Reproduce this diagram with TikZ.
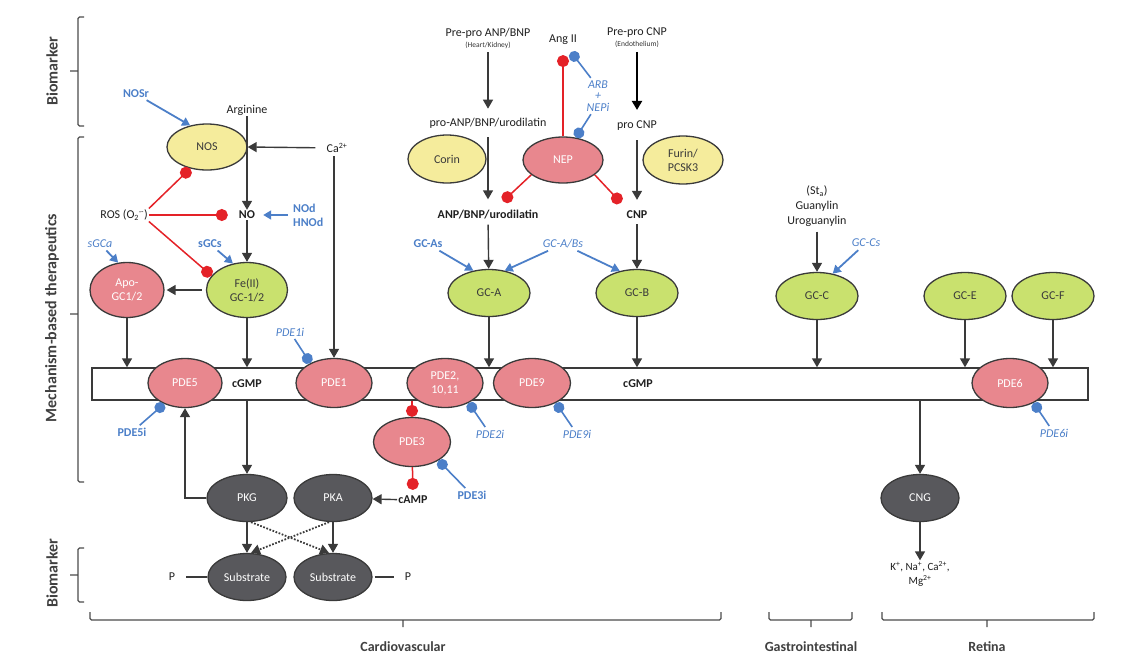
\documentclass[tikz,border=0pt]{standalone}
\usepackage{fontspec}
\setmainfont{Carlito}
\usepackage{tikz}
\usetikzlibrary{arrows.meta,positioning,shapes.geometric}

\definecolor{nosyellow}{HTML}{F5EC9C}
\definecolor{pdepink}{HTML}{E8878E}
\definecolor{gcgreen}{HTML}{C9E16E}
\definecolor{kinasegray}{HTML}{58585C}
\definecolor{drugblue}{HTML}{4C7FC8}
\definecolor{inhibred}{HTML}{E42228}
\definecolor{inkgray}{HTML}{3A3A3A}
\newcommand{\diagfont}{\fontsize{12}{14}\selectfont}

\begin{document}
\begin{tikzpicture}[x=1pt,y=-1pt,
    >={Triangle[length=9pt,width=10pt]},
    flow/.style={->,line width=1.4pt,draw=inkgray},
    thickflow/.style={->,line width=2pt,draw=black},
    dotflow/.style={->,line width=1.8pt,dash pattern=on 1.7pt off 1.6pt,draw=inkgray},
    plainline/.style={line width=1.2pt,draw=inkgray},
    drug/.style={-{Triangle[length=8pt,width=9pt]},line width=1.8pt,draw=drugblue},
    drugblock/.style={-{Circle[length=11pt]},line width=1.6pt,draw=drugblue},
    inhibit/.style={-{Circle[length=12pt]},line width=1.5pt,draw=inhibred},
    enzyme/.style={ellipse,draw=inkgray,line width=1.3pt,minimum width=78pt,
      minimum height=48pt,inner sep=0pt,align=center,font=\diagfont},
    yellowenz/.style={enzyme,fill=nosyellow,text=inkgray},
    pde/.style={enzyme,fill=pdepink,text=white},
    cyclase/.style={enzyme,fill=gcgreen,text=inkgray,minimum width=82pt,minimum height=47pt},
    kinase/.style={enzyme,fill=kinasegray,text=white,minimum height=47pt},
    txt/.style={font=\diagfont,text=black!88,align=center,inner sep=1pt},
    boldtxt/.style={txt,font=\diagfont\bfseries},
    small/.style={font=\fontsize{7.5}{9}\selectfont,text=black!80,inner sep=1pt},
    druglabel/.style={font=\diagfont\bfseries,text=drugblue,inner sep=1pt},
    druglabelit/.style={font=\diagfont\itshape,text=drugblue,inner sep=1pt},
    region/.style={font=\fontsize{14}{16}\selectfont\bfseries,text=black!75},
    side/.style={font=\fontsize{16}{18}\selectfont\bfseries,text=black!75,rotate=90},
    brace/.style={line width=1.3pt,draw=black!70,rounded corners=1.5pt}
  ]
    \useasboundingbox (0,0) rectangle (1145,670);

    % Section braces.
    \draw[brace] (84,17) -- (78,17) -- (78,126) -- (84,126) (78,71) -- (70,71);
    \node[side] at (52,71) {Biomarker};
    \draw[brace] (84,137) -- (78,137) -- (78,482) -- (84,482) (78,314) -- (70,314);
    \node[side] at (52,318) {Mechanism-based therapeutics};
    \draw[brace] (84,548) -- (78,548) -- (78,602) -- (84,602) (78,575) -- (70,575);
    \node[side] at (52,573) {Biomarker};
    \draw[brace] (90,612) -- (90,620) -- (721,620) -- (721,612) (403,620) -- (403,627);
    \node[region] at (403,647) {Cardiovascular};
    \draw[brace] (769,612) -- (769,620) -- (852,620) -- (852,612) (811,620) -- (811,627);
    \node[region] at (811,647) {Gastrointestinal};
    \draw[brace] (882,612) -- (882,620) -- (1094,620) -- (1094,612) (987,620) -- (987,627);
    \node[region] at (987,647) {Retina};

    % Nitric oxide branch.
    \node[druglabel] (nosr) at (136,94) {NOSr};
    \node[txt] (arg) at (247,110) {Arginine};
    \node[yellowenz,minimum width=80pt,minimum height=46pt] (nos) at (207,147) {NOS};
    \node[txt] (ca) at (337,148) {Ca\textsuperscript{2+}};
    \node[txt] (ros) at (124,215) {ROS (O\textsubscript{2}\textsuperscript{·-})};
    \node[boldtxt] (no) at (247,215) {NO};
    \node[druglabel,align=left,anchor=west] (nod) at (292,215) {NOd\\HNOd};
    \node[druglabelit] (sgca) at (100,244) {sGCa};
    \node[druglabel] (sgcs) at (210,244) {sGCs};
    \node[pde,minimum width=74pt,minimum height=55pt] (apo) at (127,290) {Apo-\\GC1/2};
    \node[cyclase,minimum width=81pt,minimum height=55pt] (fe) at (247,290) {Fe(II)\\GC-1/2};

    \draw[flow] (arg) -- (no);
    \draw[flow,shorten <=10pt] (ca) -- (nos.east);
    \draw[drug,shorten <=2pt] (nosr) -- (nos.128);
    \draw[inhibit] (ros.north east) -- (nos.-128);
    \draw[inhibit,shorten >=10pt] (ros.east) -- (no.west);
    \draw[inhibit] (ros.south east) -- (fe.158);
    \draw[drug,shorten <=4pt,shorten >=7pt] (nod.west) -- (no.east);
    \draw[flow] (no) -- (fe);
    \draw[drug,shorten <=2pt] (sgca) -- (apo.108);
    \draw[drug,shorten <=2pt] (sgcs) -- (fe.118);
    \draw[flow,shorten <=4pt,shorten >=2pt] (fe.west) -- (apo.east);

    % Natriuretic peptides.
    \node[txt] (preanp) at (488,33) {Pre-pro ANP/BNP};
    \node[small,below=1pt of preanp] (heart) {(Heart/Kidney)};
    \node[txt] (proanp) at (488,123) {pro-ANP/BNP/urodilatin};
    \node[boldtxt] (anp) at (488,215) {ANP/BNP/urodilatin};
    \node[yellowenz] (corin) at (447,159) {Corin};
    \node[txt] (angii) at (563,40) {Ang II};
    \node[pde,minimum width=80pt,minimum height=46pt] (nep) at (563,160) {NEP};
    \node[druglabelit,align=center,font=\fontsize{12}{11.5}\selectfont\itshape] (arb) at (598,96) {ARB\\+\\NEPi};
    \node[txt] (precnp) at (637,33) {Pre-pro CNP};
    \node[small,below=1pt of precnp] (endo) {(Endothelium)};
    \node[txt] (procnp) at (637,126) {pro CNP};
    \node[boldtxt] (cnp) at (637,215) {CNP};
    \node[yellowenz,minimum width=80pt] (furin) at (683,160) {Furin/\\PCSK3};

    \draw[flow,shorten <=3pt,shorten >=8pt] (heart) -- (proanp);
    \draw[flow,shorten <=8pt,shorten >=10pt] (proanp) -- (anp);
    \draw[thickflow,shorten <=3pt,shorten >=10pt] (endo) -- (procnp);
    \draw[flow,shorten <=8pt,shorten >=10pt] (procnp) -- (cnp);
    \draw[inhibit,shorten >=9pt] (nep) -- (angii);
    \draw[drugblock,shorten <=2pt] (arb.110) -- ([xshift=8pt,yshift=-6pt]angii.south);
    \draw[drugblock,shorten <=2pt] (arb.-110) -- (nep.60);
    \draw[inhibit] (nep.-155) -- ([xshift=15pt,yshift=8pt]anp.north);
    \draw[inhibit] (nep.-25) -- ([xshift=-16pt,yshift=7pt]cnp.north);

    % Guanylyl cyclase receptors.
    \node[druglabel] (gcas) at (428,244) {GC-As};
    \node[druglabelit] (gcabs) at (563,244) {GC-A/Bs};
    \node[cyclase] (gca) at (489,293) {GC-A};
    \node[cyclase] (gcb) at (637,293) {GC-B};
    \node[txt,font=\fontsize{12}{15}\selectfont] (guan) at (817,206) {(St\textsubscript{a})\\Guanylin\\Uroguanylin};
    \node[druglabelit] (gccs) at (866,243) {GC-Cs};
    \node[cyclase] (gcc) at (817,296) {GC-C};
    \node[cyclase] (gce) at (965,296) {GC-E};
    \node[cyclase] (gcf) at (1053,296) {GC-F};

    \draw[flow,shorten <=4pt] (anp) -- (gca);
    \draw[flow,shorten <=4pt] (cnp) -- (gcb);
    \draw[flow,shorten <=4pt] (guan) -- (gcc);
    \draw[drug,shorten <=3pt] (gcas) -- (gca.125);
    \draw[drug,shorten <=3pt] (gcabs) -- (gca.55);
    \draw[drug,shorten <=3pt] (gcabs) -- (gcb.128);
    \draw[drug,shorten <=3pt] (gccs) -- (gcc.55);

    % cGMP pool and phosphodiesterases.
    \node[draw=inkgray,line width=1.4pt,minimum width=996pt,minimum height=32pt,
      inner sep=0pt] (cgmpbox) at (590,384) {};
    \foreach \g in {apo,fe,gca,gcb,gcc,gce,gcf}
      \draw[flow] (\g) -- (\g |- cgmpbox.north);

    \node[pde,minimum width=74pt,minimum height=49pt] (pde5) at (185,383) {PDE5};
    \node[boldtxt] (cgmpa) at (247,384) {cGMP};
    \node[pde,minimum width=76pt,minimum height=49pt] (pde1) at (334,383) {PDE1};
    \node[pde,minimum width=76pt,minimum height=49pt] (pde2) at (445,383) {PDE2,\\10,11};
    \node[pde,minimum width=77pt,minimum height=49pt] (pde9) at (532,383) {PDE9};
    \node[boldtxt] (cgmpb) at (638,384) {cGMP};
    \node[pde,minimum width=76pt,minimum height=49pt] (pde6) at (1010,383) {PDE6};
    \node[pde,minimum width=77pt,minimum height=49pt] (pde3) at (412,442) {PDE3};

    \node[druglabelit] (pde1i) at (290,332) {PDE1i};
    \node[druglabel] (pde5i) at (132,432) {PDE5i};
    \node[druglabelit] (pde2i) at (490,434) {PDE2i};
    \node[druglabelit] (pde9i) at (577,434) {PDE9i};
    \node[druglabel] (pde3i) at (472,495) {PDE3i};
    \node[druglabelit] (pde6i) at (1054,433) {PDE6i};

    \draw[flow,shorten <=2pt] (ca.south -| pde1.north) -- (pde1.north);
    \draw[drugblock,shorten <=2pt] (pde1i) -- (pde1.140);
    \draw[drugblock,shorten <=2pt] (pde5i) -- (pde5.-135);
    \draw[drugblock,shorten <=2pt] (pde2i) -- (pde2.-40);
    \draw[drugblock,shorten <=2pt] (pde9i) -- (pde9.-40);
    \draw[drugblock,shorten <=2pt] (pde3i) -- (pde3.-35);
    \draw[drugblock,shorten <=2pt] (pde6i) -- (pde6.-40);

    % Protein kinases and CNG channel.
    \node[kinase,minimum width=80pt] (pkg) at (247,498) {PKG};
    \node[kinase] (pka) at (333,498) {PKA};
    \node[boldtxt] (camp) at (413,500) {cAMP};
    \node[kinase] (sub1) at (247,577) {Substrate};
    \node[kinase] (sub2) at (333,577) {Substrate};
    \node[txt] (pleft) at (172,577) {P};
    \node[txt] (pright) at (408,577) {P};
    \node[kinase] (cng) at (920,498) {CNG};
    \node[txt,font=\fontsize{11}{14}\selectfont] (ions) at (920,574)
      {K\textsuperscript{+}, Na\textsuperscript{+}, Ca\textsuperscript{2+},\\Mg\textsuperscript{2+}};

    \draw[inhibit] (cgmpbox.south -| pde3) -- (pde3);
    \draw[inhibit,shorten >=5pt] (pde3) -- (camp);
    \draw[flow] (cgmpbox.south -| pkg) -- (pkg);
    \draw[flow] (pkg.west) -| (pde5);
    \draw[flow] (pkg) -- (sub1);
    \draw[flow] (pka) -- (sub2);
    \draw[dotflow] ([xshift=4pt]pkg.south) -- ([xshift=-4pt]sub2.north);
    \draw[dotflow] ([xshift=-4pt]pka.south) -- ([xshift=4pt]sub1.north);
    \draw[flow] (camp) -- (pka);
    \draw[plainline,shorten <=10pt] (pleft) -- (sub1);
    \draw[plainline,shorten <=2pt,shorten >=10pt] (sub2) -- (pright);
    \draw[flow] (cgmpbox.south -| cng) -- (cng);
    \draw[flow] (cng) -- (ions);
  \end{tikzpicture}
\end{document}
